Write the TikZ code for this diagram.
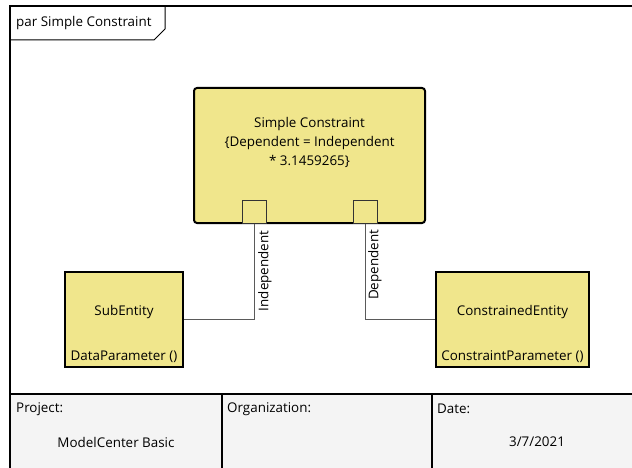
\documentclass[tikz,border=0pt]{standalone}
\usepackage{fontspec}
\setmainfont{Open Sans}
\definecolor{blockfill}{RGB}{240,230,140}
\definecolor{footfill}{RGB}{244,244,244}
\definecolor{wire}{RGB}{90,90,90}
\begin{document}
\begin{tikzpicture}[x=1pt,y=-1pt,
  txt/.style={font=\fontsize{13.4}{19}\selectfont, inner sep=0pt, align=center},
  blockbox/.style={draw=black, line width=2pt, fill=blockfill, inner sep=0pt},
  portbox/.style={draw=black!80, line width=1pt, fill=blockfill, minimum width=24pt, minimum height=23pt, inner sep=0pt},
  wireline/.style={draw=wire, line width=1pt}]
\useasboundingbox (0,0) rectangle (632,468);
\fill[white] (0,0) rectangle (632,468);
% footer
\fill[footfill] (10,394) rectangle (650,480);
\draw[line width=2pt] (10,394) -- (650,394);
\draw[line width=1.5pt] (222,394) -- (222,480);
\draw[line width=1.5pt] (432,394) -- (432,480);
% frame
\draw[line width=2pt] (10,480) -- (10,6) -- (650,6);
% tab
\draw[line width=1pt] (10,40) -- (154,40) -- (165,29) -- (165,6);
\node[txt, anchor=west] (title) at (16,23) {par Simple Constraint};
% constraint block
\node[blockbox, rounded corners=3pt, minimum width=231pt, minimum height=135pt] (sc) at (309.5,155.5) {};
\node[txt] (sctext) at (309.5,142) {Simple Constraint\\\{Dependent = Independent\\* 3.1459265\}};
\node[portbox] (pL) at (254,211.5) {};
\node[portbox] (pR) at (365,211.5) {};
% blocks
\node[blockbox, minimum width=118pt, minimum height=95pt] (sub) at (124,319.5) {};
\node[txt] (subname) at (124,312) {SubEntity};
\node[txt] (subpar) at (124,357) {DataParameter ()};
\node[blockbox, minimum width=153pt, minimum height=95pt] (ce) at (512.5,319.5) {};
\node[txt] (cename) at (512.5,312) {ConstrainedEntity};
\node[txt] (cepar) at (512.5,357) {ConstraintParameter ()};
% connectors
\draw[wireline] (pL.south) |- (sub.east);
\draw[wireline] (pR.south) |- (ce.west);
\node[txt, rotate=90] (lind) at (265,271) {Independent};
\node[txt, rotate=90] (ldep) at (375,265) {Dependent};
% footer texts
\node[txt, anchor=west] (proj) at (16,409) {Project:};
\node[txt] (projv) at (116,442) {ModelCenter Basic};
\node[txt, anchor=west] (org) at (227,409) {Organization:};
\node[txt, anchor=west] (date) at (437,409) {Date:};
\node[txt] (datev) at (537,442) {3/7/2021};
\end{tikzpicture}
\end{document}
